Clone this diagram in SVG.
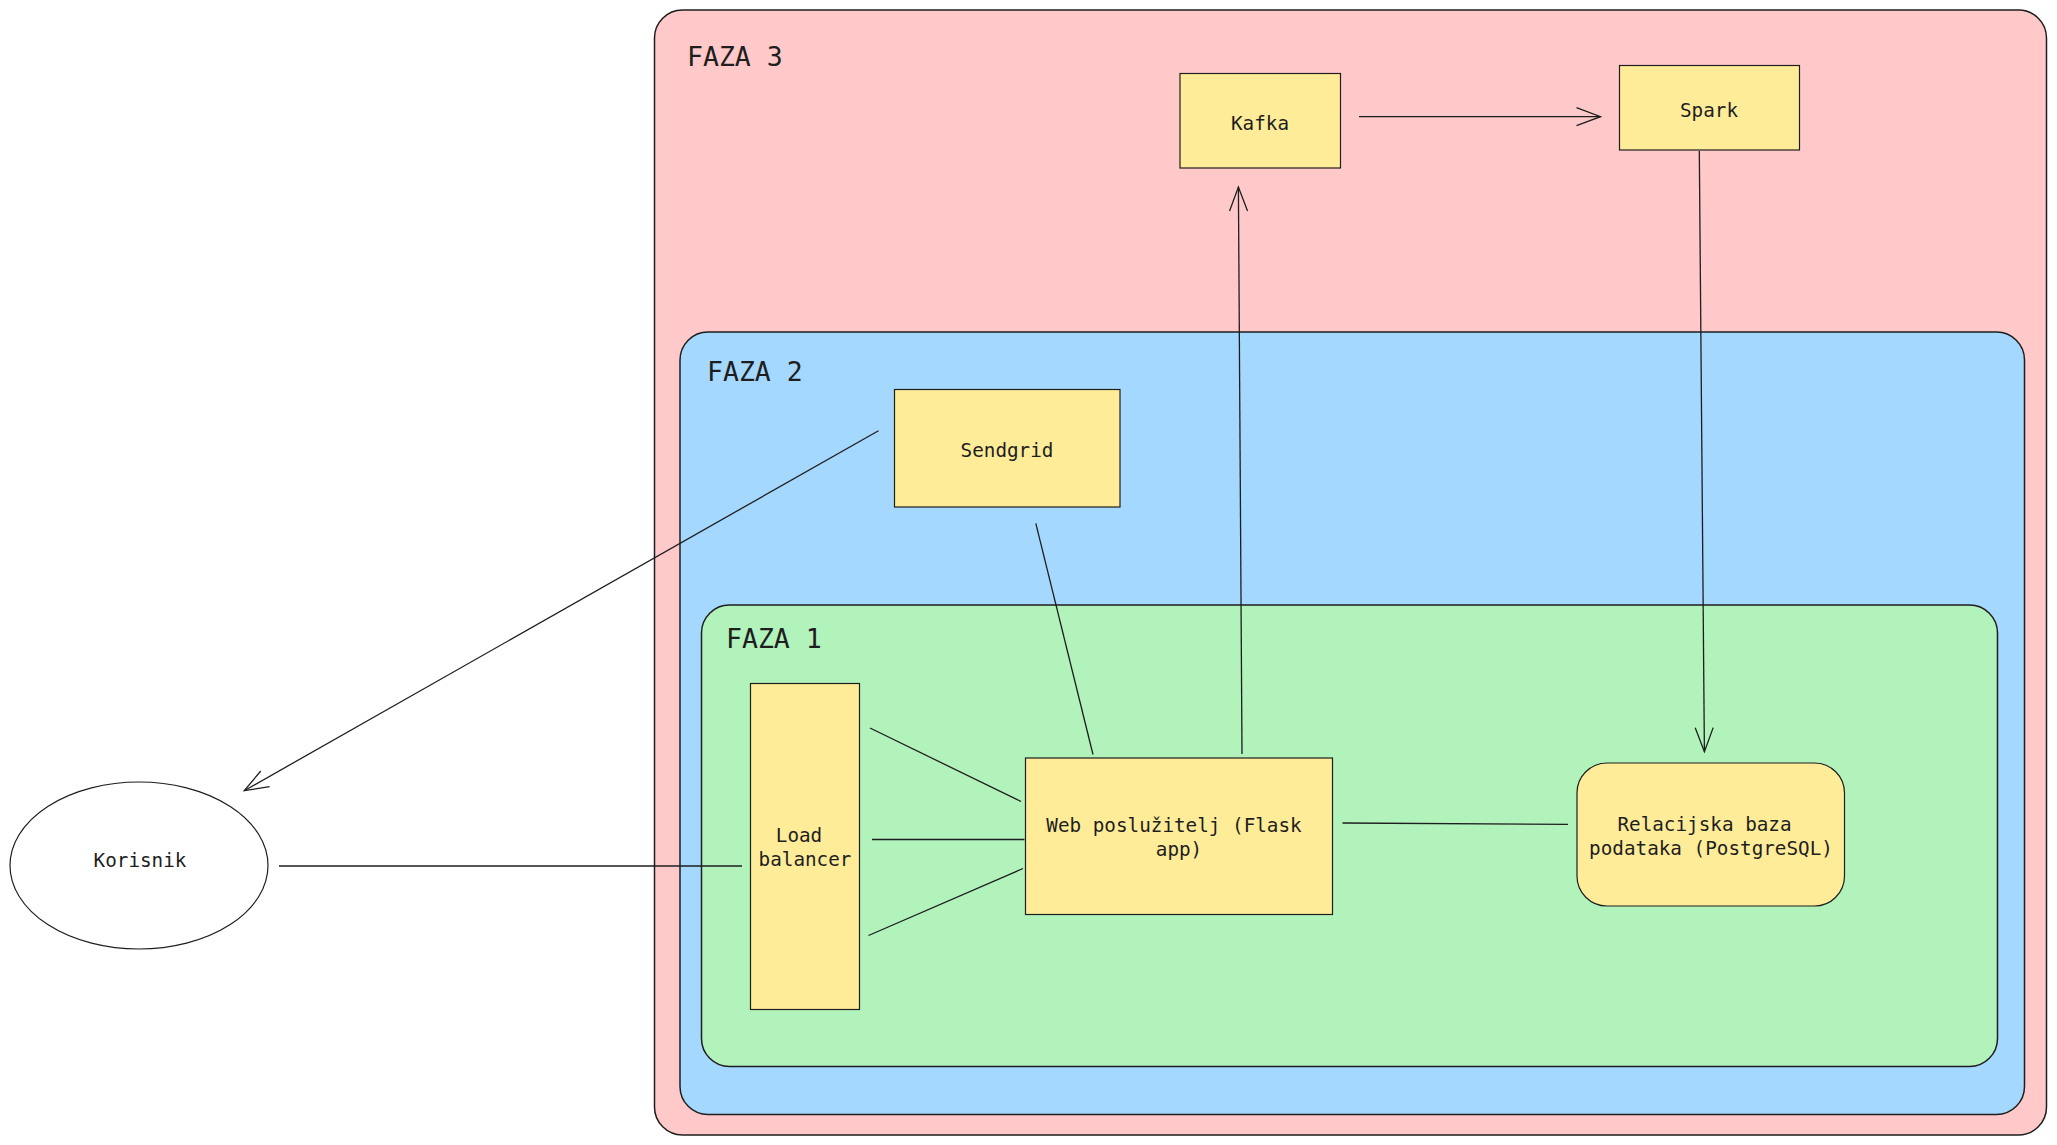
<svg xmlns="http://www.w3.org/2000/svg" width="2057" height="1145" viewBox="0 0 2057 1145">
  <style>
    .zone { stroke: #1e1e1e; stroke-width: 1.5; }
    .node { fill: #ffec99; stroke: #1e1e1e; stroke-width: 1.2; }
    .zlabel { font-family: "DejaVu Sans Mono", "Liberation Mono", monospace; font-size: 26.5px; fill: #1e1e1e; }
    .nlabel { font-family: "DejaVu Sans Mono", "Liberation Mono", monospace; font-size: 19.3px; fill: #1e1e1e; text-anchor: middle; }
    .conn { stroke: #1e1e1e; stroke-width: 1.3; fill: none; }
  </style>
  <defs>
    <marker id="arrow" markerUnits="userSpaceOnUse" markerWidth="30" markerHeight="24" viewBox="-26 -12 30 24" refX="0" refY="0" orient="auto">
      <path d="M -24 -9 L 0 0 L -24 9" fill="none" stroke="#1e1e1e" stroke-width="1.3"/>
    </marker>
  </defs>
  <rect width="2057" height="1145" fill="#ffffff"/>

  <g id="faza3">
    <rect class="zone" x="654.5" y="10" width="1392" height="1125" rx="28" ry="28" fill="#ffc9c9"/>
    <text class="zlabel" x="687" y="66">FAZA 3</text>
  </g>
  <g id="faza2">
    <rect class="zone" x="680" y="332" width="1344.5" height="782.5" rx="28" ry="28" fill="#a5d8ff"/>
    <text class="zlabel" x="707" y="381">FAZA 2</text>
  </g>
  <g id="faza1">
    <rect class="zone" x="701.5" y="605" width="1296" height="461.5" rx="28" ry="28" fill="#b2f2bb"/>
    <text class="zlabel" x="726" y="648">FAZA 1</text>
  </g>

  <g id="korisnik">
    <ellipse cx="139" cy="865.5" rx="129" ry="83.5" fill="#ffffff" stroke="#1e1e1e" stroke-width="1.2"/>
    <text class="nlabel" x="140" y="867">Korisnik</text>
  </g>
  <g id="load-balancer">
    <rect class="node" x="750.5" y="683.5" width="109" height="326"/>
    <text class="nlabel" x="799" y="842">Load</text>
    <text class="nlabel" x="805" y="866">balancer</text>
  </g>
  <g id="web">
    <rect class="node" x="1025.5" y="758" width="307" height="156.5"/>
    <text class="nlabel" x="1174" y="832">Web poslužitelj (Flask</text>
    <text class="nlabel" x="1179" y="856">app)</text>
  </g>
  <g id="db">
    <rect class="node" x="1577" y="763" width="267.5" height="143" rx="30" ry="30"/>
    <text class="nlabel" x="1704.5" y="831">Relacijska baza</text>
    <text class="nlabel" x="1711" y="855">podataka (PostgreSQL)</text>
  </g>
  <g id="sendgrid">
    <rect class="node" x="894.5" y="389.5" width="225.5" height="117.5"/>
    <text class="nlabel" x="1007" y="457">Sendgrid</text>
  </g>
  <g id="kafka">
    <rect class="node" x="1180" y="73.5" width="160.5" height="94.5"/>
    <text class="nlabel" x="1260" y="129.5">Kafka</text>
  </g>
  <g id="spark">
    <rect class="node" x="1619.5" y="65.5" width="180" height="84.5"/>
    <text class="nlabel" x="1709" y="117">Spark</text>
  </g>

  <g id="connectors">
    <line class="conn" x1="279" y1="866" x2="742" y2="866"/>
    <line class="conn" x1="870" y1="728" x2="1021" y2="801.5"/>
    <line class="conn" x1="872" y1="839.5" x2="1024.5" y2="839.5"/>
    <line class="conn" x1="868.5" y1="935.5" x2="1023" y2="868.5"/>
    <line class="conn" x1="1342.5" y1="823" x2="1568" y2="824.3"/>
    <line class="conn" x1="1242" y1="754" x2="1238.4" y2="187" marker-end="url(#arrow)"/>
    <line class="conn" x1="1359" y1="116.7" x2="1600.5" y2="116.7" marker-end="url(#arrow)"/>
    <line class="conn" x1="1699.3" y1="151" x2="1704.4" y2="751.7" marker-end="url(#arrow)"/>
    <line class="conn" x1="1035.8" y1="523.3" x2="1093" y2="754.5"/>
    <line class="conn" x1="878.5" y1="430.7" x2="244.3" y2="790.7" marker-end="url(#arrow)"/>
  </g>
</svg>
